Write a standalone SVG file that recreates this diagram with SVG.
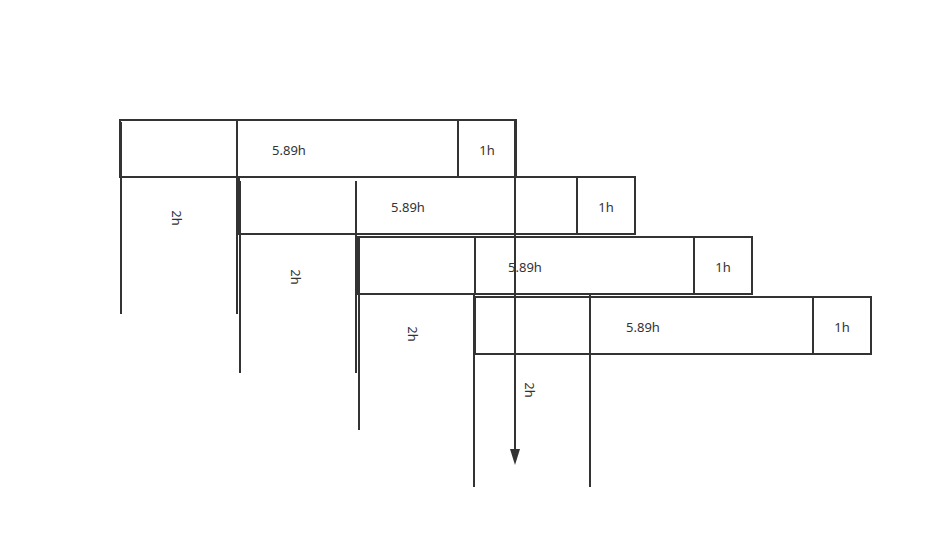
<svg xmlns="http://www.w3.org/2000/svg" width="933" height="548" viewBox="0 0 933 548">
<style>
.b{fill:none;stroke:#333;stroke-width:2}
.l{stroke:#333;stroke-width:2;fill:none}
.t{font-family:"Noto Sans","DejaVu Sans",sans-serif;font-size:13px;fill:#333;text-anchor:middle;dominant-baseline:central}
</style>
<defs>
<marker id="ah" markerWidth="10" markerHeight="16" refX="5" refY="15" orient="auto" markerUnits="userSpaceOnUse" viewBox="0 0 10 16">
<path d="M0,0 L10,0 L5,16 Z" fill="#333" transform="rotate(0)"/>
</marker>
</defs>
<rect width="933" height="548" fill="#fff"/>
<g id="row1">
<rect class="b" x="120" y="120" width="396" height="57"/>
<line class="l" x1="237" y1="120" x2="237" y2="177"/>
<line class="l" x1="458" y1="120" x2="458" y2="177"/>
<text class="t" x="289" y="150">5.89h</text>
<text class="t" x="487" y="150">1h</text>
<line class="l" x1="121" y1="122" x2="121" y2="314"/>
<line class="l" x1="237" y1="122" x2="237" y2="314"/>
<text class="t" transform="translate(177,218) rotate(90)">2h</text>
</g>
<g id="row2">
<rect class="b" x="239" y="177" width="396" height="57"/>
<line class="l" x1="577" y1="177" x2="577" y2="234"/>
<text class="t" x="408" y="207">5.89h</text>
<text class="t" x="606" y="207">1h</text>
<line class="l" x1="240" y1="181" x2="240" y2="373"/>
<line class="l" x1="356" y1="181" x2="356" y2="373"/>
<text class="t" transform="translate(296,277) rotate(90)">2h</text>
</g>
<g id="row3">
<rect class="b" x="358" y="237" width="394" height="57"/>
<line class="l" x1="475" y1="237" x2="475" y2="294"/>
<line class="l" x1="694" y1="237" x2="694" y2="294"/>
<text class="t" x="525" y="267">5.89h</text>
<text class="t" x="723" y="267">1h</text>
<line class="l" x1="359" y1="238" x2="359" y2="430"/>
<line class="l" x1="474" y1="295" x2="474" y2="430"/>
<text class="t" transform="translate(413,334) rotate(90)">2h</text>
</g>
<g id="row4">
<rect class="b" x="475" y="297" width="396" height="57"/>
<line class="l" x1="590" y1="297" x2="590" y2="354"/>
<line class="l" x1="813" y1="297" x2="813" y2="354"/>
<text class="t" x="643" y="327">5.89h</text>
<text class="t" x="842" y="327">1h</text>
<line class="l" x1="474" y1="297" x2="474" y2="487"/>
<line class="l" x1="590" y1="295" x2="590" y2="487"/>
<text class="t" transform="translate(530,390) rotate(90)">2h</text>
</g>
<g id="connectors">
<line class="l" x1="515" y1="120" x2="515" y2="449"/>
<path d="M510,449 L520,449 L515,465 Z" fill="#333"/>
</g>
</svg>
